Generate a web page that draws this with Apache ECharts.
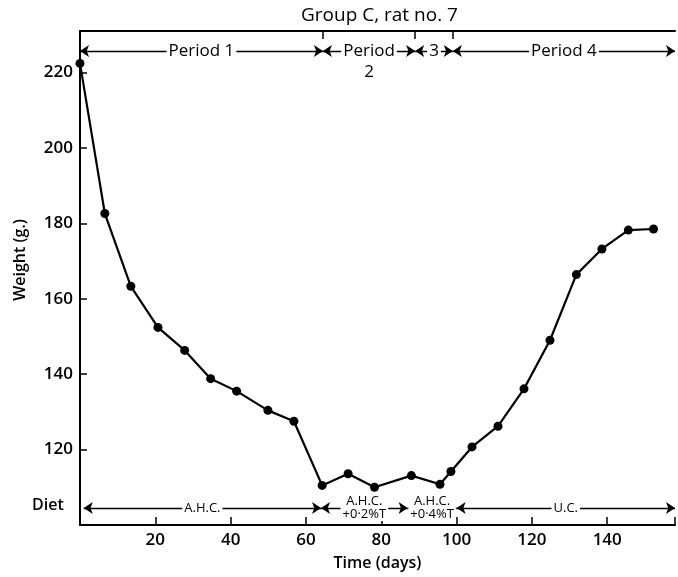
<!DOCTYPE html>
<html>
<head>
<meta charset="utf-8">
<script src="https://cdn.jsdelivr.net/npm/echarts@6/dist/echarts.min.js"></script>
<style>
  html, body { margin: 0; padding: 0; background: #fff; }
  #chart { width: 678px; height: 577px; }
</style>
</head>
<body>
<div id="chart"></div>
<script>
// weighings: time (days) and weight (g.)
const days = [0, 6.6, 13.5, 20.7, 27.8, 34.7, 41.6, 49.9, 56.8, 64.3, 71.2, 78.2, 88.0, 95.6, 98.5, 104.1, 111.0, 117.9, 124.8, 131.8, 138.6, 145.6, 152.3]
const weights = [222.4, 182.6, 163.3, 152.4, 146.3, 138.8, 135.5, 130.4, 127.5, 110.5, 113.6, 110.0, 113.1, 110.8, 114.2, 120.7, 126.2, 136.1, 149.0, 166.4, 173.2, 178.2, 178.5]

const xTicks = [20, 40, 60, 80, 100, 120, 140]
const yTicks = [120, 140, 160, 180, 200, 220]

// periods along the top, diets along the bottom
const periodBounds = [0, 64.5, 89, 99, 158]
const periodLabels = ['Period 1', 'Period\n2', '3', 'Period 4']
const periodLevel = 225.7
const dietBounds = [1, 64, 87, 100, 158]
const dietLabels = ['A.H.C.', 'A.H.C.\n+0·2%T', 'A.H.C.\n+0·4%T', 'U.C.']
const dietLevel = 104.5

const font = 'Open Sans'
const chart = echarts.init(document.getElementById('chart'))

const arrows = []
for (let i = 0; i < periodLabels.length; i++) {
  arrows.push([{ coord: [periodBounds[i], periodLevel] }, { coord: [periodBounds[i + 1], periodLevel] }])
}
for (let i = 0; i < dietLabels.length; i++) {
  arrows.push([{ coord: [dietBounds[i], dietLevel] }, { coord: [dietBounds[i + 1], dietLevel] }])
}
// little ticks hanging from the top line at the period changes
const bounds = periodBounds.slice(1, 4).map((d) => [{ coord: [d, 231] }, { coord: [d, 228.9] }])

const periodText = periodLabels.map((t, i) => {
  const item = { value: [(periodBounds[i] + periodBounds[i + 1]) / 2, periodLevel], name: t }
  if (t.indexOf('\n') >= 0) item.label = { offset: [0, 11] }
  return item
})
const dietText = dietLabels.map((t, i) => ({
  value: [(dietBounds[i] + dietBounds[i + 1]) / 2, dietLevel],
  name: t
}))

const labelBase = {
  show: true,
  position: 'inside',
  formatter: (p) => p.name,
  color: '#000',
  fontFamily: font,
  fontWeight: 600,
  textBorderWidth: 0,
  backgroundColor: '#fff',
  padding: [0, 2]
}

const option = {
  animation: false,
  title: {
    text: 'Group C, rat no. 7',
    left: 296,
    top: 1,
    textStyle: { fontFamily: font, fontSize: 19, fontWeight: 'normal', color: '#000' }
  },
  grid: { left: 80, right: 1, top: 31, bottom: 52 },
  xAxis: [
    {
      type: 'value',
      min: 0,
      max: 158,
      interval: 20,
      name: 'Time (days)',
      nameLocation: 'middle',
      nameGap: 30,
      nameTextStyle: { fontFamily: font, fontSize: 16, fontWeight: 600, color: '#000' },
      axisLine: { lineStyle: { color: '#000', width: 2 } },
      axisTick: { inside: true, length: 8, lineStyle: { color: '#000', width: 1.5 } },
      axisLabel: {
        margin: 7,
        color: '#000',
        fontFamily: font,
        fontSize: 17,
        fontWeight: 600,
        formatter: (v) => (xTicks.includes(v) ? v : '')
      },
      splitLine: { show: false }
    },
    {
      type: 'value',
      position: 'top',
      min: 0,
      max: 158,
      axisLine: { lineStyle: { color: '#000', width: 2 } },
      axisTick: { show: false },
      axisLabel: { show: false },
      splitLine: { show: false }
    }
  ],
  yAxis: {
    type: 'value',
    min: 100,
    max: 231,
    interval: 20,
    name: 'Weight (g.)',
    nameLocation: 'middle',
    nameGap: 52,
    nameTextStyle: { fontFamily: font, fontSize: 16, fontWeight: 600, color: '#000', padding: [0, 0, 0, 36] },
    axisLine: { lineStyle: { color: '#000', width: 2 } },
    axisTick: { inside: true, length: 7, lineStyle: { color: '#000', width: 1.5 } },
    axisLabel: {
      margin: 7,
      color: '#000',
      fontFamily: font,
      fontSize: 17,
      fontWeight: 600,
      formatter: (v) => (yTicks.includes(v) ? v : '')
    },
    splitLine: { show: false }
  },
  graphic: [
    {
      type: 'text',
      left: 32,
      top: 497,
      style: { text: 'Diet', fontFamily: font, fontSize: 16, fontWeight: 600, fill: '#000' }
    }
  ],
  series: [
    {
      name: 'Weight',
      type: 'line',
      data: days.map((d, i) => [d, weights[i]]),
      symbol: 'circle',
      symbolSize: 9,
      itemStyle: { color: '#000' },
      lineStyle: { color: '#000', width: 2.2 },
      z: 5,
      markLine: {
        silent: true,
        symbol: ['arrow', 'arrow'],
        symbolSize: 9,
        lineStyle: { color: '#000', width: 1.4, type: 'solid' },
        label: { show: false },
        data: arrows
      }
    },
    {
      name: 'periods',
      type: 'scatter',
      symbolSize: 0,
      silent: true,
      z: 6,
      itemStyle: { color: '#000', opacity: 1 },
      data: periodText,
      label: Object.assign({}, labelBase, { fontSize: 17, fontWeight: 'normal', lineHeight: 21 }),
      markLine: {
        silent: true,
        symbol: 'none',
        lineStyle: { color: '#000', width: 1.5, type: 'solid' },
        label: { show: false },
        data: bounds
      }
    },
    {
      name: 'diets',
      type: 'scatter',
      symbolSize: 0,
      silent: true,
      z: 6,
      itemStyle: { color: '#000', opacity: 1 },
      data: dietText,
      label: Object.assign({}, labelBase, { fontSize: 13, fontWeight: 'normal', lineHeight: 13 })
    }
  ]
}
chart.setOption(option)
</script>
</body>
</html>
